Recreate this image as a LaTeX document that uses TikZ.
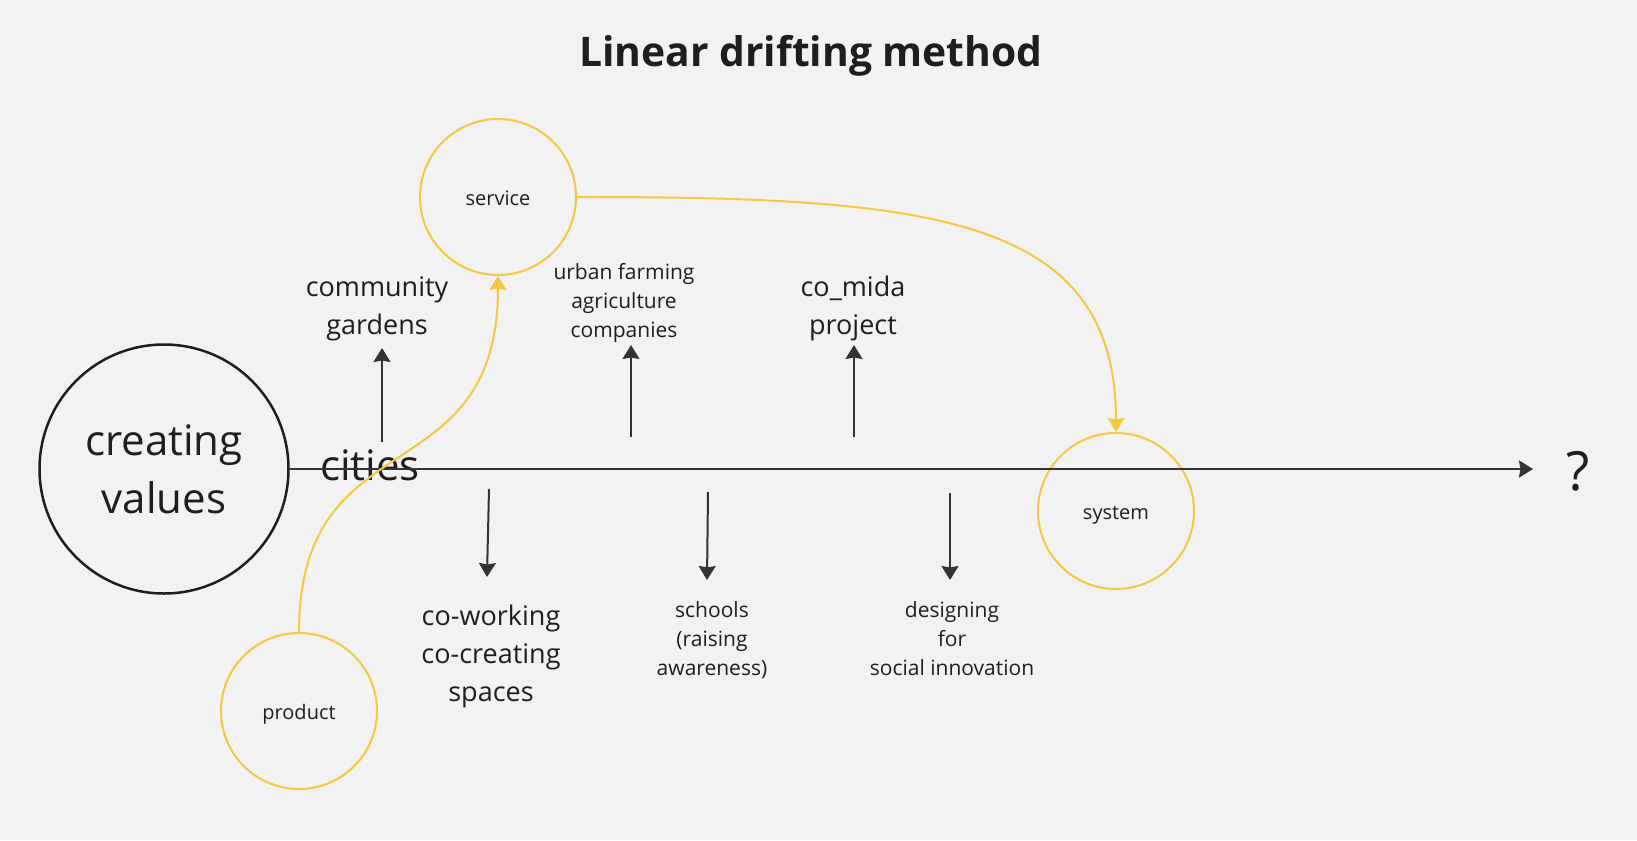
\documentclass[tikz,border=0pt]{standalone}
\usepackage{fontspec}
\setmainfont{Open Sans}
\usetikzlibrary{arrows.meta}
\definecolor{bg}{HTML}{F2F2F2}
\definecolor{ink}{HTML}{1E1E1E}
\definecolor{arr}{HTML}{333333}
\definecolor{gold}{HTML}{F4C842}
\begin{document}
\begin{tikzpicture}[x=1pt,y=-1pt,
  darrow/.style={draw=arr,line width=2pt,-{Stealth[length=14pt,width=17pt,inset=1.5pt]},color=arr},
  yarrow/.style={draw=gold,line width=2pt,-{Stealth[length=14pt,width=17pt,inset=1.5pt]},color=gold},
  ycirc/.style={circle,draw=gold,line width=2pt,minimum size=156pt,inner sep=0pt,text height=18pt,text depth=1pt,font=\fontsize{20}{27}\selectfont,text=ink},
  medtext/.style={align=center,font=\fontsize{27}{38}\selectfont,text=ink,inner sep=0pt},
  smalltext/.style={align=center,font=\fontsize{21}{29}\selectfont,text=ink,inner sep=0pt},
]
\fill[bg] (0,0) rectangle (1637,840);
\useasboundingbox (0,0) rectangle (1637,840);

% title
\node[anchor=base,font=\fontsize{40.8}{46}\selectfont\bfseries,text=ink,inner sep=0pt] (title) at (811,67) {Linear drifting method};

% main circle
\node[circle,draw=ink,line width=2.5pt,minimum size=249pt,inner sep=0pt,align=center,
      font=\fontsize{42}{58}\selectfont,text=ink] (cv) at (164,469) {creating\\values};

% texts
\node[anchor=base,font=\fontsize{42}{58}\selectfont,text=ink,inner sep=0pt] (cities) at (370,480) {cities};
\node[anchor=base,font=\fontsize{54}{60}\selectfont,text=ink,inner sep=0pt] (q) at (1578,490) {?};

\node[medtext] (cg) at (377,309) {community\\gardens};
\node[smalltext] (uf) at (624,303) {urban farming\\agriculture\\companies};
\node[medtext] (cm) at (853,308) {co\_mida\\project};
\node[medtext] (cw) at (491,656) {co-working\\co-creating\\spaces};
\node[smalltext] (sc) at (712,640) {schools\\(raising\\awareness)};
\node[smalltext] (ds) at (952,639) {designing\\for\\social innovation};

% yellow circles
\node[ycirc] (service) at (498,197) {service};
\node[ycirc] (product) at (299,711) {product};
\node[ycirc] (system) at (1116,511) {system};

% axis
\coordinate (axisend) at (1533,469);
\draw[darrow,line width=2.5pt] (cv.east) -- (axisend);

% up/down arrows
\coordinate (u1s) at (382,442); \coordinate (u1e) at (382,348);
\coordinate (u2s) at (631,437); \coordinate (u2e) at (631,345);
\coordinate (u3s) at (854,437); \coordinate (u3e) at (854,345);
\coordinate (d1s) at (489,489); \coordinate (d1e) at (487,577);
\coordinate (d2s) at (708,492); \coordinate (d2e) at (707,580);
\coordinate (d3s) at (950,493); \coordinate (d3e) at (950,580);
\draw[darrow] (u1s) -- (u1e);
\draw[darrow] (u2s) -- (u2e);
\draw[darrow] (u3s) -- (u3e);
\draw[darrow] (d1s) -- (d1e);
\draw[darrow] (d2s) -- (d2e);
\draw[darrow] (d3s) -- (d3e);

% yellow curves
\draw[yarrow] (product.north) .. controls (299,416) and (498,497) .. (service.south);
\draw[yarrow] (service.east) .. controls (930,197) and (1116,215) .. (system.north);
\end{tikzpicture}
\end{document}
